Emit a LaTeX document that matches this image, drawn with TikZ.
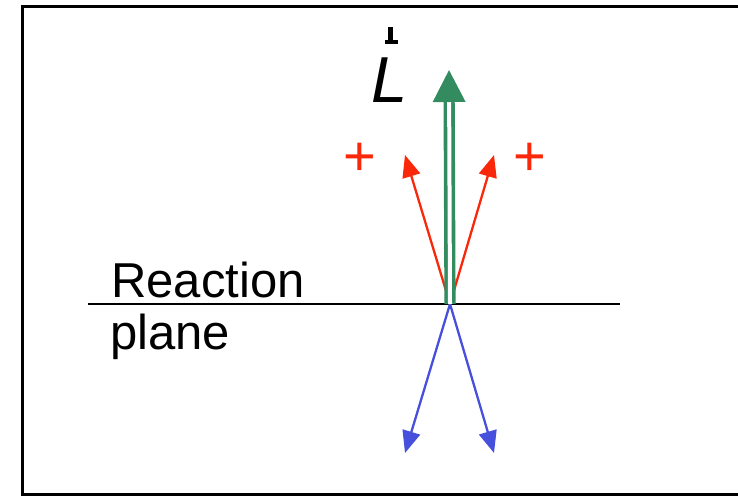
\documentclass[tikz,border=0pt]{standalone}
\usepackage{fontspec}
\setmainfont{Liberation Sans}
\usetikzlibrary{arrows.meta}
\definecolor{lgreen}{RGB}{50,140,95}
\definecolor{pred}{RGB}{250,40,10}
\definecolor{pblue}{RGB}{70,80,220}

\begin{document}
\begin{tikzpicture}[x=1pt,y=-1pt]
\useasboundingbox (0,0) rectangle (738,496);
%frame
\draw[line width=3.5pt] (745,6.5) -- (22.5,6.5) -- (22.5,494.5) -- (745,494.5);
%plane
\coordinate (pw) at (88,304);
\coordinate (pe) at (620,304);
\coordinate (O) at (450,304);
\draw[line width=1.8pt] (pw) to (pe);
%tips
\coordinate (Ltip) at (449,70);
\coordinate (r1) at (405,155);
\coordinate (r2) at (494,155);
\coordinate (b1) at (405,453);
\coordinate (b2) at (494,453);
%spins
\draw[pred,line width=2.3pt,-{Triangle[length=22pt,width=18pt]}] (O) to (r1);
\draw[pred,line width=2.3pt,-{Triangle[length=22pt,width=18pt]}] (O) to (r2);
\draw[pblue,line width=2.3pt,-{Triangle[length=22pt,width=18pt]}] (O) to (b1);
\draw[pblue,line width=2.3pt,-{Triangle[length=22pt,width=18pt]}] (O) to (b2);
%angular momentum
\draw[lgreen,line width=3.6pt,double=white,double distance=4pt,-{Triangle[length=32pt,width=32pt]}] (O) to (Ltip);

%labels
\node[anchor=base west,inner sep=0pt,font=\fontsize{65}{65}\selectfont\itshape] (L) at (371,102) {L};
\fill (388,27) rectangle (393,41);
\fill (385,40) rectangle (398,43.5);
\node[pred,inner sep=0pt,font=\fontsize{56}{56}\selectfont] (p1) at (360,159) {+};
\node[pred,inner sep=0pt,font=\fontsize{56}{56}\selectfont] (p2) at (530,159) {+};
\node[anchor=base west,inner sep=0pt,font=\fontsize{49}{49}\selectfont] (rxn) at (111,297) {Reaction};
\node[anchor=base west,inner sep=0pt,font=\fontsize{49}{49}\selectfont] (pln) at (110,349) {plane};
\end{tikzpicture}
\end{document}
